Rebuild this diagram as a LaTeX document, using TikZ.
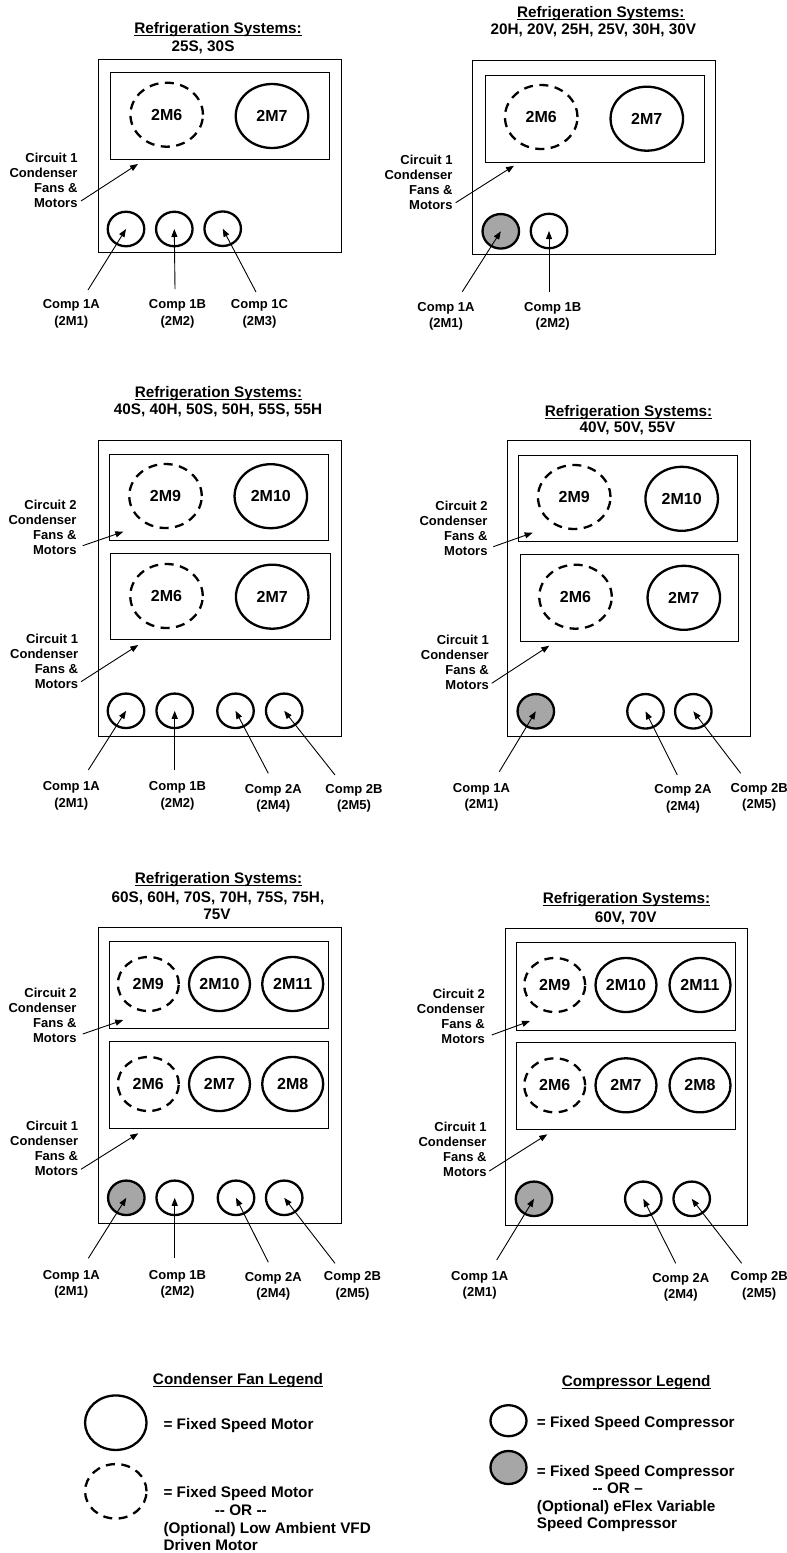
\documentclass[tikz,border=0pt]{standalone}
\usepackage{fontspec}
\setmainfont{Liberation Sans}
\usetikzlibrary{shapes.geometric,arrows.meta}
\newcommand\ttlf{\bfseries\fontsize{15.3}{18}\selectfont}
\newcommand\cirf{\bfseries\fontsize{13}{15}\selectfont}
\newcommand\lblf{\bfseries\fontsize{13}{16.7}\selectfont}
\newcommand\fanf{\bfseries\fontsize{16}{19}\selectfont}
\newcommand\legf{\bfseries\fontsize{15.3}{17.7}\selectfont}
\tikzset{
  box/.style={draw, line width=0.9pt},
  fan/.style={ellipse, draw, line width=2.3pt, inner sep=0pt, minimum width=72.5pt, minimum height=64pt, font=\fanf},
  sfan/.style={fan, minimum width=61pt, minimum height=54pt},
  vfd/.style={dash pattern=on 9pt off 6.5pt},
  comp/.style={ellipse, draw, line width=2.3pt, inner sep=0pt, minimum width=36.5pt, minimum height=34.5pt},
  eflex/.style={fill=black!35},
  ttl/.style={font=\ttlf, inner sep=0pt, anchor=base},
  cir/.style={font=\cirf, align=right, inner sep=0pt, anchor=east},
  clbl/.style={font=\lblf, align=center, inner sep=0pt},
  arr/.style={-{Triangle[length=8pt,width=6pt]}, line width=0.9pt},
  leg/.style={font=\legf, inner sep=0pt, anchor=base west},
  ul/.style={line width=1pt},
}
\begin{document}
\begin{tikzpicture}[x=1pt,y=-1pt]
\useasboundingbox[fill=white] (0,0) rectangle (787,1553);

% ================= Panel 1 =================
\node[ttl] (t1a) at (218,33.7) {Refrigeration Systems:};
\draw[ul] ([yshift=-1.8pt]t1a.base west) -- ([yshift=-1.8pt]t1a.base east);
\node[ttl] (t1b) at (203,51.5) {25S, 30S};
\draw[box] (98,59) rectangle (341,252);
\draw[box] (110.7,72.7) rectangle (329.3,159.3);
\node[fan,vfd] (p1f6) at (166.7,114.7) {2M6};
\node[fan] (p1f7) at (272,116) {2M7};
\node[comp] (p1c1) at (126,229) {};
\node[comp] (p1c2) at (174.3,229) {};
\node[comp] (p1c3) at (222.7,228.7) {};
\node[cir] (p1k1) at (77.7,180) {Circuit 1\\Condenser\\Fans \&\\Motors};
\coordinate (p1k1s) at (81,201);
\coordinate (p1k1e) at (138,164);
\draw[arr] (p1k1s) -- (p1k1e);
\node[clbl] (p1l1) at (71.3,314) {Comp 1A\\(2M1)};
\node[clbl] (p1l2) at (177.5,314) {Comp 1B\\(2M2)};
\node[clbl] (p1l3) at (259.5,314) {Comp 1C\\(2M3)};
\coordinate (p1a1) at (88,290);
\coordinate (p1a2) at (175,289);
\coordinate (p1a3) at (256,292);
\draw[arr] (p1a1) -- (p1c1.center);
\draw[arr] (p1a2) -- (p1c2.center);
\draw[arr] (p1a3) -- (p1c3.center);

% ================= Panel 2 =================
\node[ttl] (t2a) at (600.8,17.2) {Refrigeration Systems:};
\draw[ul] ([yshift=-1.8pt]t2a.base west) -- ([yshift=-1.8pt]t2a.base east);
\node[ttl] (t2b) at (593.3,34.8) {20H, 20V, 25H, 25V, 30H, 30V};
\draw[box] (472.7,60.7) rectangle (715.7,254.3);
\draw[box] (485.7,75) rectangle (704.3,162);
\node[fan,vfd] (p2f6) at (541.2,117) {2M6};
\node[fan] (p2f7) at (646.8,118.7) {2M7};
\node[comp,eflex] (p2c1) at (500.8,231.3) {};
\node[comp] (p2c2) at (549,231) {};
\node[cir] (p2k1) at (452.7,182) {Circuit 1\\Condenser\\Fans \&\\Motors};
\coordinate (p2k1s) at (455.7,202.7);
\coordinate (p2k1e) at (514,165.7);
\draw[arr] (p2k1s) -- (p2k1e);
\node[clbl] (p2l1) at (446,316.3) {Comp 1A\\(2M1)};
\node[clbl] (p2l2) at (552.7,316.3) {Comp 1B\\(2M2)};
\coordinate (p2a1) at (462.3,291.7);
\coordinate (p2a2) at (549,291.7);
\draw[arr] (p2a1) -- (p2c1.center);
\draw[arr] (p2a2) -- (p2c2.center);

% ================= Panel 3 =================
\node[ttl] (t3a) at (218.5,397.2) {Refrigeration Systems:};
\draw[ul] ([yshift=-1.8pt]t3a.base west) -- ([yshift=-1.8pt]t3a.base east);
\node[ttl] (t3b) at (218,414.8) {40S, 40H, 50S, 50H, 55S, 55H};
\draw[box] (98.3,440.7) rectangle (341,736.7);
\draw[box] (109.3,454) rectangle (328.3,540.7);
\draw[box] (110.7,553.3) rectangle (330,639.3);
\node[fan,vfd] (p3f9) at (165.5,496) {2M9};
\node[fan] (p3f10) at (270.8,496.2) {2M10};
\node[fan,vfd] (p3f6) at (166.5,596) {2M6};
\node[fan] (p3f7) at (272.2,596.7) {2M7};
\node[comp] (p3c1) at (126,710.8) {};
\node[comp] (p3c2) at (174.7,710.8) {};
\node[comp] (p3c4) at (235.5,710.8) {};
\node[comp] (p3c5) at (284.2,710.8) {};
\node[cir] (p3k2) at (76.7,527.4) {Circuit 2\\Condenser\\Fans \&\\Motors};
\node[cir] (p3k1) at (78.3,661) {Circuit 1\\Condenser\\Fans \&\\Motors};
\coordinate (p3k2s) at (82.7,545.7);
\coordinate (p3k2e) at (123.3,531.7);
\coordinate (p3k1s) at (81,681.7);
\coordinate (p3k1e) at (138.3,645);
\draw[arr] (p3k2s) -- (p3k2e);
\draw[arr] (p3k1s) -- (p3k1e);
\node[clbl] (p3l1) at (71.3,796) {Comp 1A\\(2M1)};
\node[clbl] (p3l2) at (177.5,796) {Comp 1B\\(2M2)};
\node[clbl] (p3l4) at (273.3,798.2) {Comp 2A\\(2M4)};
\node[clbl] (p3l5) at (354,798.2) {Comp 2B\\(2M5)};
\coordinate (p3a1) at (88.3,770);
\coordinate (p3a2) at (174.7,770);
\coordinate (p3a4) at (268.3,773.3);
\coordinate (p3a5) at (335,775);
\draw[arr] (p3a1) -- (p3c1.center);
\draw[arr] (p3a2) -- (p3c2.center);
\draw[arr] (p3a4) -- (p3c4.center);
\draw[arr] (p3a5) -- (p3c5.center);

% ================= Panel 4 =================
\node[ttl] (t4a) at (628.5,416.2) {Refrigeration Systems:};
\draw[ul] ([yshift=-1.8pt]t4a.base west) -- ([yshift=-1.8pt]t4a.base east);
\node[ttl] (t4b) at (627.5,432.8) {40V, 50V, 55V};
\draw[box] (507.3,440.7) rectangle (750,736.7);
\draw[box] (518.3,455) rectangle (737.3,541.7);
\draw[box] (520,554.3) rectangle (738.3,641);
\node[fan,vfd] (p4f9) at (574.2,497) {2M9};
\node[fan] (p4f10) at (681.7,498.8) {2M10};
\node[fan,vfd] (p4f6) at (575.5,596.7) {2M6};
\node[fan] (p4f7) at (683.8,597.8) {2M7};
\node[comp,eflex] (p4c1) at (535.8,711.3) {};
\node[comp] (p4c4) at (645.5,711.3) {};
\node[comp] (p4c5) at (693.3,711.3) {};
\node[cir] (p4k2) at (487.7,528.5) {Circuit 2\\Condenser\\Fans \&\\Motors};
\node[cir] (p4k1) at (489,662) {Circuit 1\\Condenser\\Fans \&\\Motors};
\coordinate (p4k2s) at (493.3,546.7);
\coordinate (p4k2e) at (532.7,532.7);
\coordinate (p4k1s) at (491.7,683.3);
\coordinate (p4k1e) at (549.3,645.7);
\draw[arr] (p4k2s) -- (p4k2e);
\draw[arr] (p4k1s) -- (p4k1e);
\node[clbl] (p4l1) at (481.5,797.3) {Comp 1A\\(2M1)};
\node[clbl] (p4l4) at (683,799) {Comp 2A\\(2M4)};
\node[clbl] (p4l5) at (759.2,797.3) {Comp 2B\\(2M5)};
\coordinate (p4a1) at (499.3,771.7);
\coordinate (p4a4) at (677.3,775);
\coordinate (p4a5) at (740.7,773.3);
\draw[arr] (p4a1) -- (p4c1.center);
\draw[arr] (p4a4) -- (p4c4.center);
\draw[arr] (p4a5) -- (p4c5.center);

% ================= Panel 5 =================
\node[ttl] (t5a) at (218.5,883.8) {Refrigeration Systems:};
\draw[ul] ([yshift=-1.8pt]t5a.base west) -- ([yshift=-1.8pt]t5a.base east);
\node[ttl] (t5b) at (218,902.2) {60S, 60H, 70S, 70H, 75S, 75H,};
\node[ttl] (t5c) at (217,919.8) {75V};
\draw[box] (98.3,927.3) rectangle (341,1223.3);
\draw[box] (109.3,941.7) rectangle (328.3,1028.3);
\draw[box] (109.3,1041) rectangle (328.3,1128.3);
\node[sfan,vfd] (p5f9) at (148.3,984) {2M9};
\node[sfan] (p5f10) at (219.5,984) {2M10};
\node[sfan] (p5f11) at (292.7,984) {2M11};
\node[sfan,vfd] (p5f6) at (148.3,1084) {2M6};
\node[sfan] (p5f7) at (219.5,1084) {2M7};
\node[sfan] (p5f8) at (292.7,1084) {2M8};
\node[comp,eflex] (p5c1) at (126.3,1197.8) {};
\node[comp] (p5c2) at (174.7,1197.8) {};
\node[comp] (p5c4) at (236,1197.8) {};
\node[comp] (p5c5) at (284.2,1197.8) {};
\node[cir] (p5k2) at (76.7,1015.2) {Circuit 2\\Condenser\\Fans \&\\Motors};
\node[cir] (p5k1) at (78.3,1148.5) {Circuit 1\\Condenser\\Fans \&\\Motors};
\coordinate (p5k2s) at (82.7,1034);
\coordinate (p5k2e) at (123.3,1020);
\coordinate (p5k1s) at (81,1169.3);
\coordinate (p5k1e) at (138.3,1133.3);
\draw[arr] (p5k2s) -- (p5k2e);
\draw[arr] (p5k1s) -- (p5k1e);
\node[clbl] (p5l1) at (71.3,1284.3) {Comp 1A\\(2M1)};
\node[clbl] (p5l2) at (177.5,1284.3) {Comp 1B\\(2M2)};
\node[clbl] (p5l4) at (273.3,1286.3) {Comp 2A\\(2M4)};
\node[clbl] (p5l5) at (352.5,1285.7) {Comp 2B\\(2M5)};
\coordinate (p5a1) at (88.3,1258.3);
\coordinate (p5a2) at (174.7,1257.7);
\coordinate (p5a4) at (268.3,1262.3);
\coordinate (p5a5) at (335,1263.3);
\draw[arr] (p5a1) -- (p5c1.center);
\draw[arr] (p5a2) -- (p5c2.center);
\draw[arr] (p5a4) -- (p5c4.center);
\draw[arr] (p5a5) -- (p5c5.center);

% ================= Panel 6 =================
\node[ttl] (t6a) at (626.5,903.8) {Refrigeration Systems:};
\draw[ul] ([yshift=-1.8pt]t6a.base west) -- ([yshift=-1.8pt]t6a.base east);
\node[ttl] (t6b) at (625.7,922.2) {60V, 70V};
\draw[box] (505,928.3) rectangle (747.7,1225);
\draw[box] (516,942.7) rectangle (735,1030);
\draw[box] (516,1042.7) rectangle (735,1129.3);
\node[sfan,vfd] (p6f9) at (554.7,985) {2M9};
\node[sfan] (p6f10) at (626,985) {2M10};
\node[sfan] (p6f11) at (700,985) {2M11};
\node[sfan,vfd] (p6f6) at (554.7,1085.3) {2M6};
\node[sfan] (p6f7) at (626,1085.3) {2M7};
\node[sfan] (p6f8) at (700,1085.3) {2M8};
\node[comp,eflex] (p6c1) at (534,1198.8) {};
\node[comp] (p6c4) at (643.3,1198.8) {};
\node[comp] (p6c5) at (691.7,1198.8) {};
\node[cir] (p6k2) at (485,1016.3) {Circuit 2\\Condenser\\Fans \&\\Motors};
\node[cir] (p6k1) at (486.7,1149.5) {Circuit 1\\Condenser\\Fans \&\\Motors};
\coordinate (p6k2s) at (491.7,1035);
\coordinate (p6k2e) at (530,1021);
\coordinate (p6k1s) at (489.3,1171);
\coordinate (p6k1e) at (547.3,1134.3);
\draw[arr] (p6k2s) -- (p6k2e);
\draw[arr] (p6k1s) -- (p6k1e);
\node[clbl] (p6l1) at (479.7,1285.3) {Comp 1A\\(2M1)};
\node[clbl] (p6l4) at (680.8,1287.2) {Comp 2A\\(2M4)};
\node[clbl] (p6l5) at (759.2,1286) {Comp 2B\\(2M5)};
\coordinate (p6a1) at (496.7,1260);
\coordinate (p6a4) at (675.7,1263.3);
\coordinate (p6a5) at (741.7,1263.3);
\draw[arr] (p6a1) -- (p6c1.center);
\draw[arr] (p6a4) -- (p6c4.center);
\draw[arr] (p6a5) -- (p6c5.center);

% ================= Legends =================
\node[ttl] (lg1) at (238,1384.5) {Condenser Fan Legend};
\draw[ul] ([yshift=-1.8pt]lg1.base west) -- ([yshift=-1.8pt]lg1.base east);
\node[fan, minimum width=61.5pt, minimum height=54.5pt] (lgf1) at (115.8,1422.7) {};
\node[fan, vfd, minimum width=61.5pt, minimum height=54.5pt] (lgf2) at (115.8,1491.3) {};
\node[leg] (lgt1) at (163.3,1429.5) {= Fixed Speed Motor};
\node[leg] (lgt2) at (163.3,1497.2) {= Fixed Speed Motor};
\node[leg, anchor=base] (lgt3) at (240.8,1515.5) {-{}- OR -{}-};
\node[leg] (lgt4) at (163.3,1533.2) {(Optional) Low Ambient VFD};
\node[leg] (lgt5) at (163.3,1550.5) {Driven Motor};

\node[ttl] (lg2) at (636.2,1386.5) {Compressor Legend};
\draw[ul] ([yshift=-1.8pt]lg2.base west) -- ([yshift=-1.8pt]lg2.base east);
\node[comp, minimum width=36pt, minimum height=31pt] (lgc1) at (508.5,1420.7) {};
\node[comp, eflex, minimum width=36pt, minimum height=33pt] (lgc2) at (508.5,1467.5) {};
\node[leg] (lgu1) at (536.7,1427.2) {= Fixed Speed Compressor};
\node[leg] (lgu2) at (536.7,1476.2) {= Fixed Speed Compressor};
\node[leg, anchor=base] (lgu3) at (617.7,1493.8) {-{}- OR –};
\node[leg] (lgu4) at (536.7,1511.2) {(Optional) eFlex Variable};
\node[leg] (lgu5) at (536.7,1528.8) {Speed Compressor};
\end{tikzpicture}
\end{document}
